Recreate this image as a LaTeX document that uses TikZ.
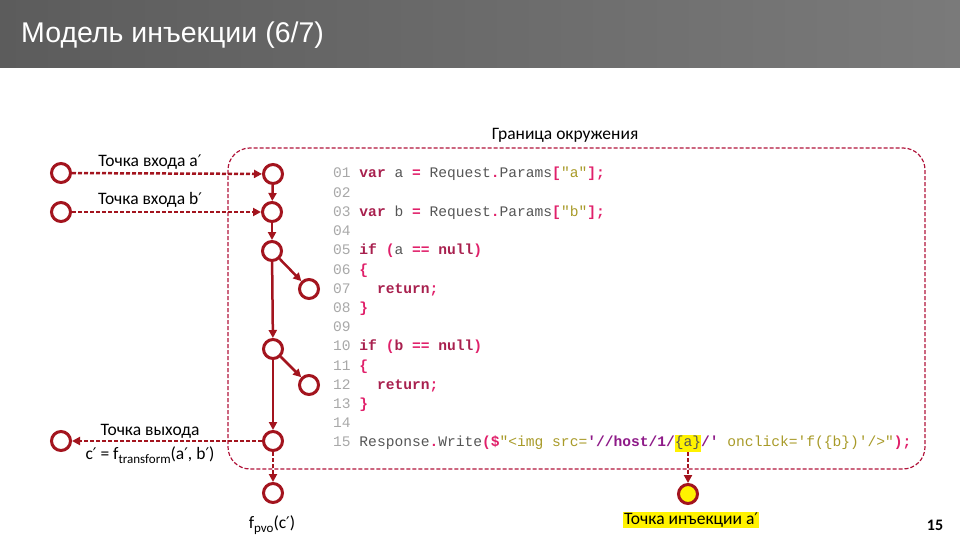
\documentclass[tikz,border=0pt]{standalone}
\usepackage{fontspec}
\setmainfont{Carlito}
\newfontfamily\titlefont{Liberation Sans}
\newfontfamily\primefont{DejaVu Sans}
\newfontfamily\codefont{Liberation Mono}[Ligatures=TeXOff]
\usetikzlibrary{arrows.meta}
\definecolor{nred}{HTML}{A3141E}
\definecolor{bred}{HTML}{B0143A}
\definecolor{clnum}{HTML}{A8A8A8}
\definecolor{ckw}{HTML}{A8204E}
\definecolor{cop}{HTML}{E0206A}
\definecolor{cpl}{HTML}{555555}
\definecolor{cst}{HTML}{A89A28}
\definecolor{chost}{HTML}{8E1A88}
\definecolor{hly}{HTML}{FFF200}
\newcommand\lnum[1]{\textcolor{clnum}{#1}}
\newcommand\kw[1]{\textcolor{ckw}{\bfseries #1}}
\newcommand\op[1]{\textcolor{cop}{\bfseries #1}}
\newcommand\pl[1]{\textcolor{cpl}{#1}}
\newcommand\st[1]{\textcolor{cst}{#1}}
\newcommand\hs[1]{\textcolor{chost}{\bfseries #1}}
\newcommand\hlt[1]{{\setlength{\fboxsep}{0pt}\colorbox{hly}{\rule[-5pt]{0pt}{17pt}#1}}}
\newcommand\subtxt[1]{\raisebox{-0.4ex}{\fontsize{13}{13}\selectfont #1}}
\newcommand\prm{{\primefont\fontsize{16}{16}\selectfont ′}}
\begin{document}
\begin{tikzpicture}[x=1pt,y=-1pt,
  pnode/.style={circle, draw=nred, line width=3pt, minimum size=19pt, inner sep=0pt, fill=white},
  arr/.style={-{Triangle[length=8pt,width=8pt]}, line width=2.5pt, draw=nred},
  darr/.style={arr, dash pattern=on 4pt off 2pt},
  lbl/.style={font=\fontsize{17.5}{19}\selectfont, text=black, inner sep=1pt},
  code/.style={anchor=base west, font=\codefont\fontsize{14.6}{16}\selectfont, inner sep=0pt},
]
\useasboundingbox (0,0) rectangle (960,540);
% title bar
\shade[left color={rgb,255:red,92;green,92;blue,92}, right color={rgb,255:red,122;green,122;blue,122}] (0,0) rectangle (960,68);
\node[anchor=west, text=white, font=\titlefont\fontsize{28.5}{31}\selectfont, inner sep=0pt] (title) at (21,35) {Модель инъекции (6/7)};
% boundary
\draw[bred, line width=1.2pt, dash pattern=on 4pt off 2pt, rounded corners=22pt] (228,148) rectangle (925,469);
\node[lbl] (lbound) at (565,135) {Граница окружения};
% code
\foreach \n/\t in {
 1/{\lnum{01} \kw{var} \pl{a} \op{=} \pl{Request}\op{.}\pl{Params}\op{[}\st{"a"}\op{];}},
 2/{\lnum{02}},
 3/{\lnum{03} \kw{var} \pl{b} \op{=} \pl{Request}\op{.}\pl{Params}\op{[}\st{"b"}\op{];}},
 4/{\lnum{04}},
 5/{\lnum{05} \kw{if} \op{(}\pl{a} \op{==} \kw{null}\op{)}},
 6/{\lnum{06} \op{\{}},
 7/{\lnum{07} \phantom{xx}\kw{return}\op{;}},
 8/{\lnum{08} \op{\}}},
 9/{\lnum{09}},
 10/{\lnum{10} \kw{if} \op{(}\textcolor{ckw}{\bfseries b} \op{==} \kw{null}\op{)}},
 11/{\lnum{11} \op{\{}},
 12/{\lnum{12} \phantom{xx}\kw{return}\op{;}},
 13/{\lnum{13} \op{\}}},
 14/{\lnum{14}}}
 \node[code] (code\n) at (333,{173+(\n-1)*19.21+5}) {\t};
\node[code] (code15) at (333,{173+14*19.21+5}) {\lnum{15} \pl{Response}\op{.}\pl{Write}\op{(\$}\st{"<img src=}\hs{'//host/1/}\hlt{\pl{\{a\}}}\hs{/'} \st{onclick='f(\{b\})'/>"}\op{);}};
% left nodes
\node[pnode] (L1) at (61,173) {};
\node[pnode] (L2) at (61,212) {};
\node[pnode] (L3) at (61,441) {};
% chain nodes
\node[pnode] (C1) at (273,174) {};
\node[pnode] (C2) at (272,212) {};
\node[pnode] (C3) at (272,251) {};
\node[pnode] (B1) at (309,289) {};
\node[pnode] (C4) at (273,349) {};
\node[pnode] (B2) at (309,385) {};
\node[pnode] (C5) at (273,441) {};
\node[pnode] (C6) at (273,493) {};
\node[pnode, fill=hly] (Y) at (688,494) {};
\coordinate (ainj) at (688,452);
% edges
\draw[darr] (L1) -- (C1);
\draw[darr] (L2) -- (C2);
\draw[arr] (C1) -- (C2);
\draw[arr] (C2) -- (C3);
\draw[arr] (C3) -- (B1);
\draw[arr] (C3) -- (C4);
\draw[arr] (C4) -- (B2);
\draw[arr] (C4) -- (C5);
\draw[darr] (C5) -- (L3);
\draw[darr] (C5) -- (C6);
\draw[darr] (ainj) -- (Y);
% labels
\node[lbl] (la) at (150,162) {Точка входа a\prm};
\node[lbl] (lb) at (150,200) {Точка входа b\prm};
\node[lbl] (lout1) at (150,431) {Точка выхода};
\node[lbl] (lout2) at (150,455) {c\prm{} = f\subtxt{transform}(a\prm, b\prm)};
\node[lbl] (lpvo) at (272,525) {f\subtxt{pvo}(c\prm)};
\node[lbl, fill=hly] (linj) at (691,520) {Точка инъекции a\prm};
\node[font=\bfseries\fontsize{16}{18}\selectfont] (pg) at (935,525) {15};
\end{tikzpicture}
\end{document}
